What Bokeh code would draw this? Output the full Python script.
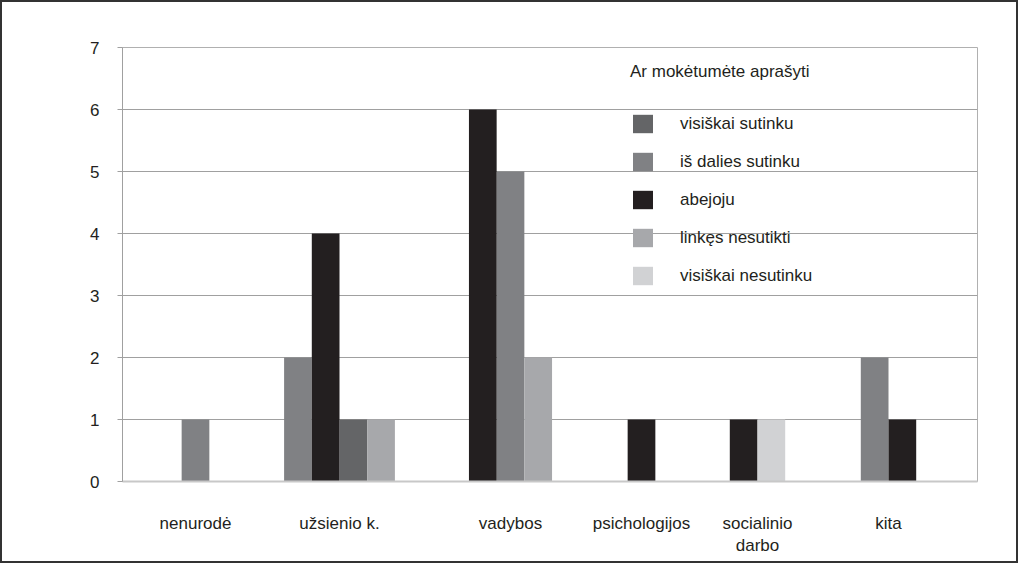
from bokeh.plotting import figure
from bokeh.models import ColumnDataSource, Range1d, FixedTicker, Legend, LegendItem
from bokeh.embed import file_html
from bokeh.resources import INLINE

# ---- data ----
categories = ["nenurodė", "užsienio k.", "vadybos", "psichologijos", "socialinio\ndarbo", "kita"]
series = ["visiškai sutinku", "iš dalies sutinku", "abejoju", "linkęs nesutikti", "visiškai nesutinku"]
visiskai_sutinku = [0, 1, 0, 0, 0, 0]
is_dalies_sutinku = [1, 2, 5, 0, 0, 2]
abejoju = [0, 4, 6, 1, 1, 1]
linkes_nesutikti = [0, 1, 2, 0, 0, 0]
visiskai_nesutinku = [0, 0, 0, 0, 1, 0]
values = [visiskai_sutinku, is_dalies_sutinku, abejoju, linkes_nesutikti, visiskai_nesutinku]
y_ticks = [0, 1, 2, 3, 4, 5, 6, 7]
legend_title = "Ar mokėtumėte aprašyti"

# ---- layout (as drawn in the original) ----
colors = ["#646567", "#808184", "#231f20", "#a7a8ab", "#d1d2d4"]
cat_centers = [73, 217, 388, 519, 635, 766]          # x units (frame width 855)
draw_order = [[1], [1, 2, 0, 3], [2, 1, 3], [2], [2, 4], [1, 2]]
bar_w = 27.7

FONT = "Liberation Sans"
TXT = "#231f20"

p = figure(width=1018, height=563, output_backend="svg", toolbar_location=None,
           x_range=Range1d(0, 855), y_range=Range1d(0, 7),
           min_border_left=120, min_border_right=43, min_border_top=45, min_border_bottom=84)
p.background_fill_color = "white"
p.border_fill_color = "white"
p.outline_line_color = "#b0b0b0"
p.styles = {"border": "2px solid #333333"}

# compute bar positions from order
xs = {i: [] for i in range(len(series))}
tops = {i: [] for i in range(len(series))}
for c, order in enumerate(draw_order):
    n = len(order)
    start = cat_centers[c] - n * bar_w / 2
    for k, s in enumerate(order):
        xs[s].append(start + (k + 0.5) * bar_w)
        tops[s].append(values[s][c])

items = []
for s in range(len(series)):
    src = ColumnDataSource(dict(x=xs[s], top=tops[s]))
    r = p.vbar(x="x", top="top", width=bar_w, bottom=0, source=src,
               fill_color=colors[s], line_color=None)
    items.append(LegendItem(label=series[s], renderers=[r]))

# axes
p.xaxis.ticker = FixedTicker(ticks=cat_centers)
p.xaxis.major_label_overrides = {c: lab for c, lab in zip(cat_centers, categories)}
p.xaxis.major_tick_line_color = None
p.xaxis.minor_tick_line_color = None
p.xaxis.axis_line_color = "#c8c8c8"
p.xaxis.axis_line_width = 2
p.xaxis.major_label_standoff = 26
p.xaxis.major_label_text_font = FONT
p.xaxis.major_label_text_font_size = "17px"
p.xaxis.major_label_text_color = TXT

p.yaxis.ticker = FixedTicker(ticks=y_ticks)
p.yaxis.axis_line_color = "#a0a0a0"
p.yaxis.major_tick_line_color = "#a0a0a0"
p.yaxis.major_tick_in = 0
p.yaxis.major_tick_out = 5
p.yaxis.minor_tick_line_color = None
p.yaxis.major_label_standoff = 18
p.yaxis.major_label_text_font = FONT
p.yaxis.major_label_text_font_size = "17px"
p.yaxis.major_label_text_color = TXT

p.xgrid.grid_line_color = None
p.ygrid.ticker = FixedTicker(ticks=y_ticks[1:-1])
p.ygrid.grid_line_color = "#a0a0a0"

legend = Legend(items=items, location=(508, 194), title=legend_title)
legend.title_text_font = FONT
legend.title_text_font_size = "17px"
legend.title_text_font_style = "normal"
legend.title_text_color = TXT
legend.title_standoff = 30
legend.label_text_font = FONT
legend.label_text_font_size = "17px"
legend.label_text_color = TXT
legend.glyph_width = 25
legend.glyph_height = 23
legend.label_height = 23
legend.label_standoff = 25
legend.spacing = 15
legend.padding = 0
legend.margin = 0
legend.border_line_color = None
legend.background_fill_alpha = 0
p.add_layout(legend)

open("out.html", "w").write(file_html(p, INLINE))
